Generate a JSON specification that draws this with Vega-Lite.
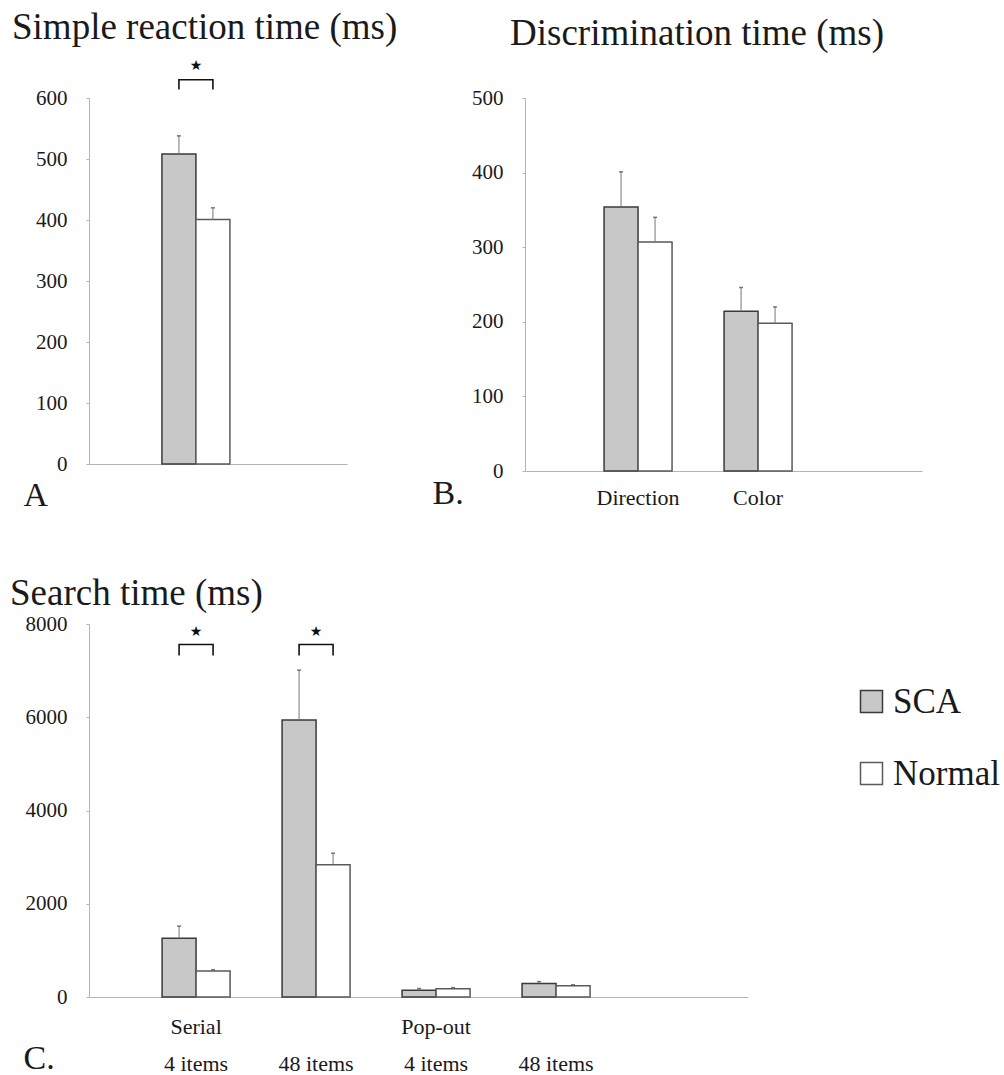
{
  "$schema": "https://vega.github.io/schema/vega-lite/v6.json",
  "background": "white",
  "padding": {"left": 10, "top": 9, "right": 0, "bottom": 0},
  "autosize": {"type": "pad"},
  "datasets": {
    "a": [
      {"cat": "RT", "group": "SCA", "value": 508, "upper": 538},
      {"cat": "RT", "group": "Normal", "value": 401, "upper": 420}
    ],
    "aBr": [
      {"cat": "RT", "group": "SCA", "y": 614, "o": 1},
      {"cat": "RT", "group": "SCA", "y": 630, "o": 2},
      {"cat": "RT", "group": "Normal", "y": 630, "o": 3},
      {"cat": "RT", "group": "Normal", "y": 614, "o": 4}
    ],
    "aStar": [{"cat": "RT", "y": 652}],
    "b": [
      {"cat": "Direction", "group": "SCA", "value": 354, "upper": 401},
      {"cat": "Direction", "group": "Normal", "value": 307, "upper": 340},
      {"cat": "Color", "group": "SCA", "value": 214, "upper": 246},
      {"cat": "Color", "group": "Normal", "value": 198, "upper": 220}
    ],
    "c": [
      {"cat": "Serial 4", "group": "SCA", "value": 1260, "upper": 1520},
      {"cat": "Serial 4", "group": "Normal", "value": 555, "upper": 585},
      {"cat": "Serial 48", "group": "SCA", "value": 5940, "upper": 7010},
      {"cat": "Serial 48", "group": "Normal", "value": 2835, "upper": 3085},
      {"cat": "Pop 4", "group": "SCA", "value": 147, "upper": 182},
      {"cat": "Pop 4", "group": "Normal", "value": 175, "upper": 202},
      {"cat": "Pop 48", "group": "SCA", "value": 290, "upper": 330},
      {"cat": "Pop 48", "group": "Normal", "value": 240, "upper": 262}
    ],
    "cBr": [
      {"cat": "Serial 4", "group": "SCA", "y": 7324, "o": 1},
      {"cat": "Serial 4", "group": "SCA", "y": 7560, "o": 2},
      {"cat": "Serial 4", "group": "Normal", "y": 7560, "o": 3},
      {"cat": "Serial 4", "group": "Normal", "y": 7324, "o": 4},
      {"cat": "Serial 48", "group": "SCA", "y": 7324, "o": 1},
      {"cat": "Serial 48", "group": "SCA", "y": 7560, "o": 2},
      {"cat": "Serial 48", "group": "Normal", "y": 7560, "o": 3},
      {"cat": "Serial 48", "group": "Normal", "y": 7324, "o": 4}
    ],
    "cStar": [{"cat": "Serial 4", "y": 7833}, {"cat": "Serial 48", "y": 7833}]
  },
  "config": {
    "view": {"stroke": null},
    "font": "Liberation Serif",
    "axis": {
      "domainColor": "#b4b4b4", "domainWidth": 1, "tickColor": "#b4b4b4", "tickSize": 3,
      "labelFont": "Liberation Serif", "labelFontSize": 21, "labelColor": "#1a1a1a", "labelPadding": 19,
      "grid": false, "titleFont": "Liberation Serif", "titleFontSize": 34, "titleFontWeight": "normal", "titleColor": "#1a1a1a"
    },
    "axisX": {"ticks": false, "labelFontSize": 22, "labelAngle": 0},
    "title": {"font": "Liberation Serif", "fontSize": 37, "fontWeight": "normal", "color": "#1a1a1a", "anchor": "start", "frame": "group", "baseline": "alphabetic"}
  },
  "resolve": {"scale": {"fill": "independent", "stroke": "independent"}, "legend": {"fill": "independent", "stroke": "independent"}},
  "spacing": 63,
  "vconcat": [
    {
      "bounds": "flush",
      "spacing": 178,
      "resolve": {"scale": {"fill": "independent", "stroke": "independent"}, "legend": {"fill": "independent", "stroke": "independent"}},
      "hconcat": [
        {
          "width": 258, "height": 366,
          "title": {"text": "Simple reaction time (ms)", "dx": -77, "offset": 12},
          "layer": [
            {
              "data": {"name": "a"},
              "mark": {"type": "bar", "strokeWidth": 1.5},
              "encoding": {
                "x": {"field": "cat", "type": "nominal", "scale": {"domain": ["RT"], "paddingInner": 0, "paddingOuter": 0.575, "align": 0.34},
                      "axis": {"labels": false, "title": "A", "titleX": -66, "titleY": 41, "titleAlign": "left", "titleBaseline": "alphabetic", "titleAnchor": null}},
                "xOffset": {"field": "group", "type": "nominal", "scale": {"domain": ["SCA", "Normal"], "paddingInner": 0, "paddingOuter": 0.765}},
                "y": {"field": "value", "type": "quantitative", "scale": {"domain": [0, 600], "nice": false},
                      "axis": {"values": [0, 100, 200, 300, 400, 500, 600], "format": "d", "title": null}},
                "fill": {"field": "group", "type": "nominal", "scale": {"domain": ["SCA", "Normal"], "range": ["#c8c8c8", "#ffffff"]}, "legend": null},
                "stroke": {"field": "group", "type": "nominal", "scale": {"domain": ["SCA", "Normal"], "range": ["#3a3a3a", "#5a5a5a"]}, "legend": null}
              }
            },
            {
              "data": {"name": "a"},
              "mark": {"type": "rule", "color": "#777777", "strokeWidth": 1},
              "encoding": {
                "x": {"field": "cat", "type": "nominal"},
                "xOffset": {"field": "group", "type": "nominal"},
                "y": {"field": "value", "type": "quantitative", "title": null},
                "y2": {"field": "upper"}
              }
            },
            {
              "data": {"name": "a"},
              "mark": {"type": "tick", "color": "#444444", "size": 4, "thickness": 1.5},
              "encoding": {
                "x": {"field": "cat", "type": "nominal"},
                "xOffset": {"field": "group", "type": "nominal"},
                "y": {"field": "upper", "type": "quantitative", "title": null}
              }
            },
            {
              "data": {"name": "aBr"},
              "mark": {"type": "line", "color": "#111111", "strokeWidth": 1.6},
              "encoding": {
                "x": {"field": "cat", "type": "nominal"},
                "xOffset": {"field": "group", "type": "nominal"},
                "y": {"field": "y", "type": "quantitative", "title": null},
                "order": {"field": "o"},
                "detail": {"field": "cat"}
              }
            },
            {
              "data": {"name": "aStar"},
              "mark": {"type": "text", "text": "★", "font": "DejaVu Sans", "fontSize": 14, "color": "#111111", "baseline": "middle"},
              "encoding": {
                "x": {"field": "cat", "type": "nominal"},
                "y": {"field": "y", "type": "quantitative", "title": null}
              }
            }
          ]
        },
        {
          "width": 397, "height": 373,
          "title": {"text": "Discrimination time (ms)", "dx": -15, "offset": 34},
          "layer": [
            {
              "data": {"name": "b"},
              "mark": {"type": "bar", "strokeWidth": 1.5},
              "encoding": {
                "x": {"field": "cat", "type": "nominal", "scale": {"domain": ["Direction", "Color"], "paddingInner": 0, "paddingOuter": 0.654, "align": 0.338},
                      "axis": {"labelBaseline": "alphabetic", "labelPadding": 33, "title": "B.", "titleX": -93, "titleY": 32, "titleAlign": "left", "titleBaseline": "alphabetic", "titleAnchor": null}},
                "xOffset": {"field": "group", "type": "nominal", "scale": {"domain": ["SCA", "Normal"], "paddingInner": 0, "paddingOuter": 0.765}},
                "y": {"field": "value", "type": "quantitative", "scale": {"domain": [0, 500], "nice": false},
                      "axis": {"values": [0, 100, 200, 300, 400, 500], "format": "d", "title": null}},
                "fill": {"field": "group", "type": "nominal", "scale": {"domain": ["SCA", "Normal"], "range": ["#c8c8c8", "#ffffff"]}, "legend": null},
                "stroke": {"field": "group", "type": "nominal", "scale": {"domain": ["SCA", "Normal"], "range": ["#3a3a3a", "#5a5a5a"]}, "legend": null}
              }
            },
            {
              "data": {"name": "b"},
              "mark": {"type": "rule", "color": "#777777", "strokeWidth": 1},
              "encoding": {
                "x": {"field": "cat", "type": "nominal"},
                "xOffset": {"field": "group", "type": "nominal"},
                "y": {"field": "value", "type": "quantitative", "title": null},
                "y2": {"field": "upper"}
              }
            },
            {
              "data": {"name": "b"},
              "mark": {"type": "tick", "color": "#444444", "size": 4, "thickness": 1.5},
              "encoding": {
                "x": {"field": "cat", "type": "nominal"},
                "xOffset": {"field": "group", "type": "nominal"},
                "y": {"field": "upper", "type": "quantitative", "title": null}
              }
            }
          ]
        }
      ]
    },
    {
      "width": 659, "height": 373,
      "title": {"text": "Search time (ms)", "dx": -79, "offset": 0},
      "layer": [
        {
          "data": {"name": "c"},
          "mark": {"type": "bar", "strokeWidth": 1.5},
          "encoding": {
            "x": {"field": "cat", "type": "nominal", "scale": {"domain": ["Serial 4", "Serial 48", "Pop 4", "Pop 48"], "paddingInner": 0, "paddingOuter": 0.746, "align": 0.263},
                  "axis": {"labelBaseline": "alphabetic", "labelPadding": 36, "labelLineHeight": 37,
                           "labelExpr": "datum.value == 'Serial 4' ? ['Serial', '4 items'] : datum.value == 'Pop 4' ? ['Pop-out', '4 items'] : ['', '48 items']",
                           "title": "C.", "titleX": -66, "titleY": 71, "titleAlign": "left", "titleBaseline": "alphabetic", "titleAnchor": null}},
            "xOffset": {"field": "group", "type": "nominal", "scale": {"domain": ["SCA", "Normal"], "paddingInner": 0, "paddingOuter": 0.765}},
            "y": {"field": "value", "type": "quantitative", "scale": {"domain": [0, 8000], "nice": false},
                  "axis": {"values": [0, 2000, 4000, 6000, 8000], "format": "d", "title": null}},
            "fill": {"field": "group", "type": "nominal", "scale": {"domain": ["SCA", "Normal"], "range": ["#c8c8c8", "#ffffff"]},
                     "legend": {"title": null, "orient": "none", "legendX": 765, "legendY": 60, "symbolType": "square", "symbolSize": 484,
                                "symbolStrokeWidth": 1.5, "labelFont": "Liberation Serif", "labelFontSize": 35, "labelColor": "#1a1a1a",
                                "labelOffset": 4, "rowPadding": 36, "labelLimit": 300}},
            "stroke": {"field": "group", "type": "nominal", "scale": {"domain": ["SCA", "Normal"], "range": ["#3a3a3a", "#5a5a5a"]}, "legend": null}
          }
        },
        {
          "data": {"name": "c"},
          "mark": {"type": "rule", "color": "#777777", "strokeWidth": 1},
          "encoding": {
            "x": {"field": "cat", "type": "nominal"},
            "xOffset": {"field": "group", "type": "nominal"},
            "y": {"field": "value", "type": "quantitative", "title": null},
            "y2": {"field": "upper"}
          }
        },
        {
          "data": {"name": "c"},
          "mark": {"type": "tick", "color": "#444444", "size": 4, "thickness": 1.5},
          "encoding": {
            "x": {"field": "cat", "type": "nominal"},
            "xOffset": {"field": "group", "type": "nominal"},
            "y": {"field": "upper", "type": "quantitative", "title": null}
          }
        },
        {
          "data": {"name": "cBr"},
          "mark": {"type": "line", "color": "#111111", "strokeWidth": 1.6},
          "encoding": {
            "x": {"field": "cat", "type": "nominal"},
            "xOffset": {"field": "group", "type": "nominal"},
            "y": {"field": "y", "type": "quantitative", "title": null},
            "order": {"field": "o"},
            "detail": {"field": "cat"}
          }
        },
        {
          "data": {"name": "cStar"},
          "mark": {"type": "text", "text": "★", "font": "DejaVu Sans", "fontSize": 14, "color": "#111111", "baseline": "middle"},
          "encoding": {
            "x": {"field": "cat", "type": "nominal"},
            "y": {"field": "y", "type": "quantitative", "title": null}
          }
        }
      ]
    }
  ]
}
